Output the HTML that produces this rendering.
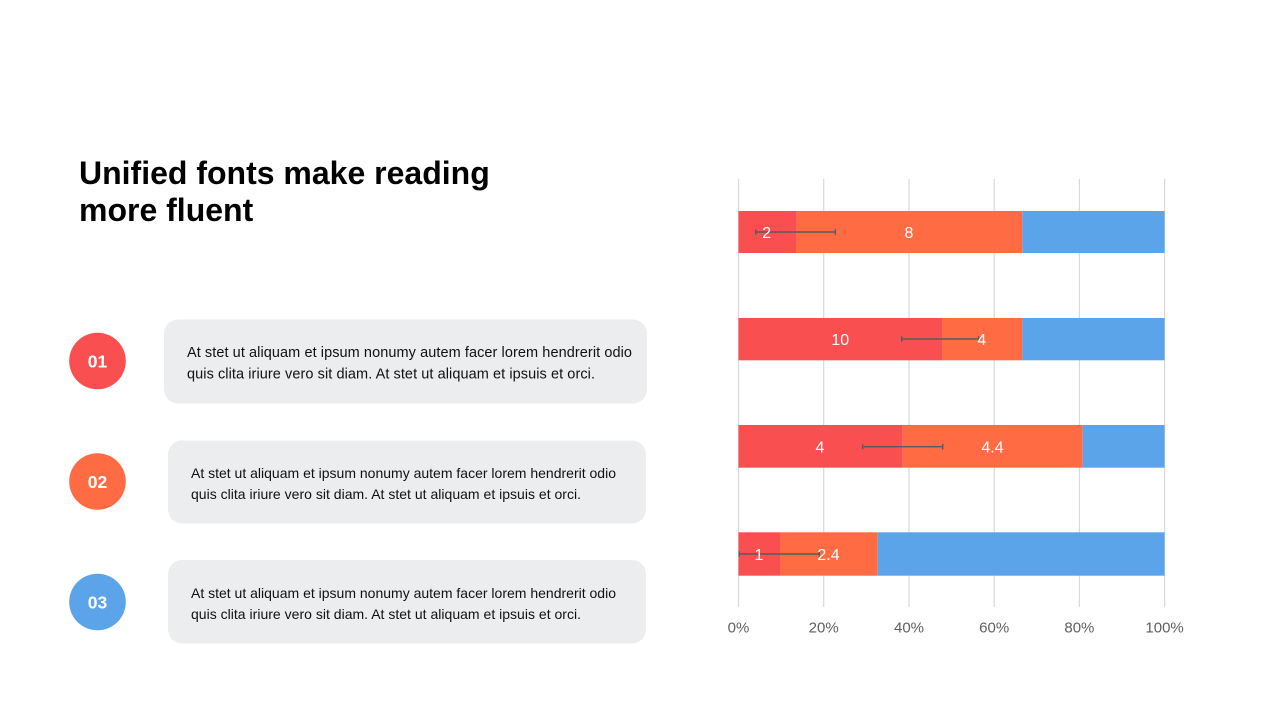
<!DOCTYPE html>
<html>
<head>
<meta charset="utf-8">
<style>
  html,body{margin:0;padding:0;background:#ffffff;}
  svg{display:block;}
  text{font-family:"Liberation Sans", Arial, sans-serif;}
</style>
</head>
<body>
<svg width="1280" height="720" viewBox="0 0 1280 720" xmlns="http://www.w3.org/2000/svg">
  <rect x="0" y="0" width="1280" height="720" fill="#ffffff"/>

  <!-- Title -->
  <text x="79" y="184" font-size="32" font-weight="bold" fill="#000000">Unified fonts make reading</text>
  <text x="79" y="221" font-size="32" font-weight="bold" fill="#000000">more fluent</text>

  <!-- Circles -->
  <circle cx="97.5" cy="361" r="28.3" fill="#F94F50"/>
  <text x="97.5" y="367.5" font-size="17.5" font-weight="bold" fill="#ffffff" text-anchor="middle">01</text>
  <circle cx="97.5" cy="481.5" r="28.3" fill="#FF6B43"/>
  <text x="97.5" y="488" font-size="17.5" font-weight="bold" fill="#ffffff" text-anchor="middle">02</text>
  <circle cx="97.5" cy="602" r="28.3" fill="#5CA4E9"/>
  <text x="97.5" y="608.5" font-size="17.5" font-weight="bold" fill="#ffffff" text-anchor="middle">03</text>

  <!-- Text boxes -->
  <rect x="164" y="319.5" width="483" height="84" rx="14" ry="14" fill="#ECEDEF"/>
  <text x="187" y="357" font-size="14.5" fill="#111111" textLength="445" lengthAdjust="spacing">At stet ut aliquam et ipsum nonumy autem facer lorem hendrerit odio</text>
  <text x="187" y="378.5" font-size="14.5" fill="#111111" textLength="408" lengthAdjust="spacing">quis clita iriure vero sit diam. At stet ut aliquam et ipsuis et orci.</text>

  <rect x="168" y="440.5" width="478" height="83" rx="14" ry="14" fill="#ECEDEF"/>
  <text x="191" y="478" font-size="14" fill="#111111" textLength="425" lengthAdjust="spacing">At stet ut aliquam et ipsum nonumy autem facer lorem hendrerit odio</text>
  <text x="191" y="499" font-size="14" fill="#111111" textLength="390" lengthAdjust="spacing">quis clita iriure vero sit diam. At stet ut aliquam et ipsuis et orci.</text>

  <rect x="168" y="560" width="478" height="83.5" rx="14" ry="14" fill="#ECEDEF"/>
  <text x="191" y="598" font-size="14" fill="#111111" textLength="425" lengthAdjust="spacing">At stet ut aliquam et ipsum nonumy autem facer lorem hendrerit odio</text>
  <text x="191" y="619" font-size="14" fill="#111111" textLength="390" lengthAdjust="spacing">quis clita iriure vero sit diam. At stet ut aliquam et ipsuis et orci.</text>

  <!-- Gridlines -->
  <g stroke="#D9D9D9" stroke-width="1.2">
    <line x1="738.5" y1="179" x2="738.5" y2="607"/>
    <line x1="823.7" y1="179" x2="823.7" y2="607"/>
    <line x1="909" y1="179" x2="909" y2="607"/>
    <line x1="994.2" y1="179" x2="994.2" y2="607"/>
    <line x1="1079.4" y1="179" x2="1079.4" y2="607"/>
    <line x1="1164.6" y1="179" x2="1164.6" y2="607"/>
  </g>

  <!-- Bar 1 -->
  <rect x="738.5" y="211" width="57.5" height="42" fill="#F94F50"/>
  <rect x="796" y="211" width="226.3" height="42" fill="#FF6B43"/>
  <rect x="1022.3" y="211" width="142.3" height="42" fill="#5CA4E9"/>
  <!-- Bar 2 -->
  <rect x="738.5" y="318" width="203.5" height="42.3" fill="#F94F50"/>
  <rect x="942" y="318" width="80.3" height="42.3" fill="#FF6B43"/>
  <rect x="1022.3" y="318" width="142.3" height="42.3" fill="#5CA4E9"/>
  <!-- Bar 3 -->
  <rect x="738.5" y="425" width="164.2" height="42.7" fill="#F94F50"/>
  <rect x="902.7" y="425" width="180" height="42.7" fill="#FF6B43"/>
  <rect x="1082.7" y="425" width="81.9" height="42.7" fill="#5CA4E9"/>
  <!-- Bar 4 -->
  <rect x="738.5" y="532.3" width="41.5" height="43.4" fill="#F94F50"/>
  <rect x="780" y="532.3" width="97.7" height="43.4" fill="#FF6B43"/>
  <rect x="877.7" y="532.3" width="286.9" height="43.4" fill="#5CA4E9"/>

  <!-- Error bars -->
  <g stroke="#5A5A5A" stroke-width="1.4" fill="none">
    <line x1="755.7" y1="232" x2="835.3" y2="232"/>
    <line x1="755.7" y1="229.3" x2="755.7" y2="234.7"/>
    <line x1="835.3" y1="229.3" x2="835.3" y2="234.7"/>

    <line x1="901.7" y1="339" x2="978.5" y2="339"/>
    <line x1="901.7" y1="336.3" x2="901.7" y2="341.7"/>
    <line x1="978.5" y1="336.3" x2="978.5" y2="341.7"/>

    <line x1="862.7" y1="446.7" x2="942.7" y2="446.7"/>
    <line x1="862.7" y1="444" x2="862.7" y2="449.4"/>
    <line x1="942.7" y1="444" x2="942.7" y2="449.4"/>

    <line x1="739.3" y1="554" x2="819.3" y2="554"/>
    <line x1="739.3" y1="551.3" x2="739.3" y2="556.7"/>
    <line x1="819.3" y1="551.3" x2="819.3" y2="556.7"/>
  </g>

  <!-- Data labels -->
  <g font-size="16" fill="#ffffff" text-anchor="middle">
    <text x="766.7" y="237.8">2</text>
    <text x="909" y="237.8">8</text>
    <text x="840.3" y="344.8">10</text>
    <text x="981.7" y="344.8">4</text>
    <text x="820" y="452.3">4</text>
    <text x="992.5" y="452.3">4.4</text>
    <text x="759" y="559.8">1</text>
    <text x="828.5" y="559.8">2.4</text>
  </g>

  <!-- Axis labels -->
  <g font-size="15" fill="#606060" text-anchor="middle">
    <text x="738.5" y="632.5">0%</text>
    <text x="823.7" y="632.5">20%</text>
    <text x="909" y="632.5">40%</text>
    <text x="994.2" y="632.5">60%</text>
    <text x="1079.4" y="632.5">80%</text>
    <text x="1164.6" y="632.5">100%</text>
  </g>
</svg>
</body>
</html>
